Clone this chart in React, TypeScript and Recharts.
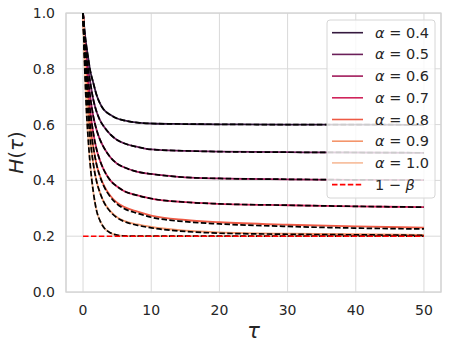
import React from "react";
import {
  LineChart,
  Line,
  XAxis,
  YAxis,
  CartesianGrid,
  ReferenceArea,
} from "recharts";

// tau sample points
const taus = [0, 0.25, 0.5, 0.75, 1, 1.5, 2, 2.5, 3, 4, 5, 6, 8, 10, 15, 20, 30, 40, 50];

// H(tau) for each alpha (solid curves)
const h04 = [1, 0.93, 0.88, 0.84, 0.8, 0.75, 0.705, 0.675, 0.655, 0.635, 0.622, 0.615, 0.607, 0.604, 0.602, 0.601, 0.6, 0.6, 0.599];
const h05 = [1, 0.91, 0.85, 0.8, 0.76, 0.69, 0.645, 0.615, 0.595, 0.565, 0.545, 0.533, 0.52, 0.511, 0.506, 0.503, 0.501, 0.5, 0.499];
const h06 = [1, 0.89, 0.82, 0.76, 0.71, 0.63, 0.58, 0.545, 0.52, 0.483, 0.46, 0.447, 0.431, 0.423, 0.411, 0.407, 0.404, 0.402, 0.401];
const h07 = [1, 0.87, 0.79, 0.72, 0.66, 0.57, 0.51, 0.47, 0.44, 0.4, 0.378, 0.362, 0.346, 0.335, 0.322, 0.316, 0.311, 0.307, 0.304];
const h08 = [1, 0.85, 0.76, 0.68, 0.61, 0.52, 0.455, 0.415, 0.385, 0.345, 0.32, 0.305, 0.288, 0.274, 0.258, 0.25, 0.241, 0.235, 0.231];
const h09 = [1, 0.83, 0.72, 0.63, 0.56, 0.46, 0.395, 0.355, 0.325, 0.29, 0.268, 0.255, 0.242, 0.233, 0.22, 0.214, 0.209, 0.207, 0.205];
const h10 = [1, 0.8, 0.65, 0.55, 0.47, 0.36, 0.29, 0.255, 0.233, 0.212, 0.204, 0.201, 0.2, 0.2, 0.2, 0.2, 0.2, 0.2, 0.2];

// black dashed approximations (mostly on top of the solid curves)
const a08 = [1, 0.85, 0.76, 0.68, 0.61, 0.52, 0.455, 0.413, 0.382, 0.341, 0.315, 0.299, 0.282, 0.268, 0.252, 0.244, 0.235, 0.229, 0.226];
const a09 = [1, 0.83, 0.72, 0.63, 0.56, 0.46, 0.395, 0.355, 0.325, 0.288, 0.266, 0.253, 0.239, 0.23, 0.217, 0.211, 0.207, 0.205, 0.203];
const approx = [h04, h05, h06, h07, a08, a09, h10];

const oneMinusBeta = 0.2;

const alphas = ["0.4", "0.5", "0.6", "0.7", "0.8", "0.9", "1.0"];
const curves = [h04, h05, h06, h07, h08, h09, h10];
const colors = ["#35193e", "#6b1f59", "#a11a5b", "#d0245b", "#ee5a45", "#f4956b", "#f6ba98"];

const xTicks = [0, 10, 20, 30, 40, 50];
const yTicks = [0, 0.2, 0.4, 0.6, 0.8, 1.0];

const data = taus.map((t, i) => {
  const row: any = { tau: t, beta: oneMinusBeta };
  curves.forEach((c, k) => (row["h" + k] = c[i]));
  approx.forEach((c, k) => (row["a" + k] = c[i]));
  return row;
});

const font = "DejaVu Sans";
const textColor = "#262626";
const dash = "5.5 2.4";

const LegendBox = () => {
  const rowY = (i: number) => 32.7 + i * 21.7;
  return (
    <svg
      width={449}
      height={349}
      style={{ position: "absolute", left: 0, top: 0, pointerEvents: "none" }}
    >
      <rect
        x={327}
        y={20}
        width={108}
        height={178}
        rx={3}
        fill="rgba(255,255,255,0.8)"
        stroke="#d6d6d6"
        strokeWidth={1}
      />
      {alphas.map((a, i) => (
        <g key={a}>
          <line x1={332} x2={363} y1={rowY(i)} y2={rowY(i)} stroke={colors[i]} strokeWidth={1.6} />
          <text x={375} y={rowY(i) + 5} fontFamily={font} fontSize={14.5} fill={textColor}>
            <tspan fontStyle="italic">α</tspan> = {a}
          </text>
        </g>
      ))}
      <line
        x1={332}
        x2={363}
        y1={rowY(7)}
        y2={rowY(7)}
        stroke="#ff0000"
        strokeWidth={1.6}
        strokeDasharray={dash}
      />
      <text x={375} y={rowY(7) + 5} fontFamily={font} fontSize={14.5} fill={textColor}>
        1 − <tspan fontStyle="italic">β</tspan>
      </text>
    </svg>
  );
};

export default function App() {
  return (
    <div style={{ position: "absolute", left: 0, top: 0, width: 449, height: 349, background: "#fff" }}>
      <LineChart
        width={449}
        height={349}
        data={data}
        margin={{ top: 13, right: 8, left: 0, bottom: 0 }}
      >
        <CartesianGrid stroke="#d9d9d9" strokeWidth={1} />
        <ReferenceArea
          x1={-2.5}
          x2={52.5}
          y1={0}
          y2={1}
          fill="none"
          stroke="#d3d3d3"
          strokeWidth={1.25}
        />
        <XAxis
          dataKey="tau"
          type="number"
          domain={[-2.5, 52.5]}
          ticks={xTicks}
          allowDataOverflow
          axisLine={false}
          tickLine={false}
          tickSize={0}
          tickMargin={13}
          height={57}
          tick={{ fontFamily: font, fontSize: 14, fill: textColor }}
          label={{
            value: "τ",
            position: "insideBottom",
            offset: 11,
            fontFamily: font,
            fontSize: 21,
            fontStyle: "italic",
            fill: textColor,
          }}
        />
        <YAxis
          type="number"
          domain={[0, 1]}
          ticks={yTicks}
          allowDataOverflow
          axisLine={false}
          tickLine={false}
          tickSize={0}
          tickMargin={11}
          width={66}
          tickFormatter={(v: number) => v.toFixed(1)}
          tick={{ fontFamily: font, fontSize: 14, fill: textColor }}
          label={(props: any) => {
            const vb = props.viewBox;
            const cy = vb.y + vb.height / 2;
            return (
              <text
                x={16}
                y={cy}
                transform={`rotate(-90 16 ${cy})`}
                textAnchor="middle"
                dominantBaseline="central"
                fontFamily={font}
                fontSize={20}
                fill={textColor}
              >
                <tspan fontStyle="italic">H</tspan>(<tspan fontStyle="italic">τ</tspan>)
              </text>
            );
          }}
        />
        {curves.map((_, k) => (
          <Line
            key={"h" + k}
            type="monotone"
            dataKey={"h" + k}
            stroke={colors[k]}
            strokeWidth={1.8}
            dot={false}
            isAnimationActive={false}
          />
        ))}
        {approx.map((_, k) => (
          <Line
            key={"a" + k}
            type="monotone"
            dataKey={"a" + k}
            stroke="#000000"
            strokeWidth={1.7}
            strokeDasharray={dash}
            dot={false}
            isAnimationActive={false}
          />
        ))}
        <Line
          type="linear"
          dataKey="beta"
          stroke="#ff0000"
          strokeWidth={1.6}
          strokeDasharray={dash}
          dot={false}
          isAnimationActive={false}
        />
      </LineChart>
      <LegendBox />
    </div>
  );
}
